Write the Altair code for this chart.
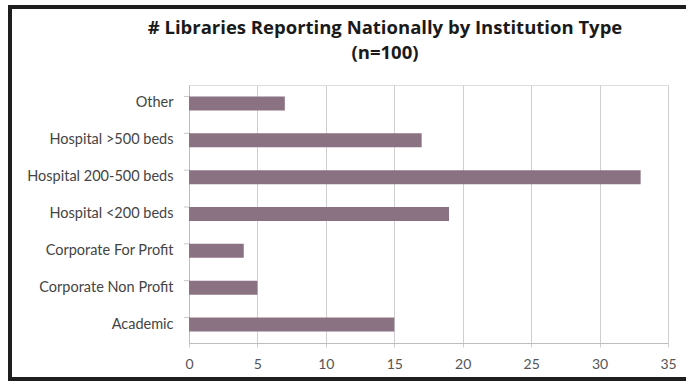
import altair as alt
import pandas as pd

categories = ["Other", "Hospital >500 beds", "Hospital 200-500 beds", "Hospital <200 beds",
              "Corporate For Profit", "Corporate Non Profit", "Academic"]
counts = [7, 17, 33, 19, 4, 5, 15]
x_ticks = [0, 5, 10, 15, 20, 25, 30, 35]
title_lines = ["# Libraries Reporting Nationally by Institution Type", "(n=100)"]

df = pd.DataFrame({"cat": categories, "n": counts})
one = pd.DataFrame({"k": [0]})

W, H = 479, 258
FONT = "Lato"

ysc = alt.Scale(domain=categories, paddingInner=0.62, paddingOuter=0.31)
xsc = alt.Scale(domain=[0, 35], nice=False)

bars = alt.Chart(df).mark_bar(color="#8b7282").encode(
    x=alt.X("n:Q", scale=xsc, title=None,
            axis=alt.Axis(values=x_ticks, grid=True, gridColor="#cfcfcf", domainColor="#bdbdbd",
                          tickColor="#cfcfcf", tickSize=4, labelPadding=10, labelFontSize=14,
                          labelColor="#555555", labelFont=FONT, labelFlush=False)),
    y=alt.Y("cat:N", scale=ysc, sort=categories, title=None,
            axis=alt.Axis(ticks=False, domainColor="#bdbdbd", labelPadding=16, labelFontSize=14.5,
                          labelColor="#444444", labelFont=FONT, labelLimit=300)),
)

yticks = alt.Chart(df).mark_rule(color="#c8c8c8").encode(
    y=alt.Y("cat:N", scale=ysc, sort=categories, bandPosition=0),
    x=alt.value(-5), x2=alt.value(0),
)

border = alt.Chart(one).mark_rect(fill=None, stroke="#1e1e1e", strokeWidth=4).encode(
    x=alt.value(-179), x2=alt.value(W + 60), y=alt.value(-78), y2=alt.value(H + 36)
)

title = alt.Chart(one).mark_text(
    text=title_lines, font="Open Sans", fontSize=18.5, fontWeight="bold", color="#1a1a1a",
    lineHeight=25, align="center", baseline="top",
).encode(x=alt.value(196), y=alt.value(-66))

chart = alt.layer(bars, yticks, border, title).properties(
    width=W, height=H,
    padding={"left": 189, "top": 85, "right": 18, "bottom": 42},
    autosize=alt.AutoSizeParams(type="none"),
).configure_view(stroke=None).configure(background="white")

chart.save("out.html", embed_options={"renderer": "svg", "actions": False})
